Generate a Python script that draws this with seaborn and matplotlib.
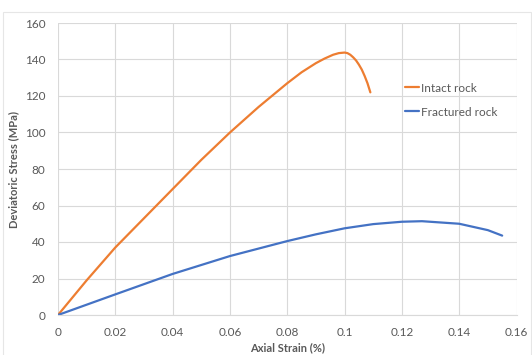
import matplotlib
matplotlib.use("Agg")
import matplotlib.pyplot as plt
import seaborn as sns
import pandas as pd
from matplotlib.patches import Rectangle

intact_strain = [0, 0.01, 0.02, 0.03, 0.04, 0.05, 0.06, 0.07, 0.08, 0.085, 0.09, 0.093, 0.096, 0.098, 0.1, 0.101, 0.102, 0.103, 0.104, 0.105, 0.106, 0.107, 0.108, 0.109]
intact_stress = [0, 19, 37, 53, 69, 85, 100, 114, 127, 133, 138, 140.5, 142.6, 143.5, 143.8, 143.5, 142.6, 141.2, 139.5, 137.2, 134.5, 131, 127, 122]
fractured_strain = [0, 0.02, 0.04, 0.06, 0.08, 0.09, 0.10, 0.11, 0.12, 0.127, 0.14, 0.15, 0.155]
fractured_stress = [0, 11.3, 22.5, 32.3, 40.5, 44.2, 47.5, 49.8, 51.1, 51.4, 50.0, 46.5, 43.5]
series_names = ["Intact rock", "Fractured rock"]
x_ticks = [0, 0.02, 0.04, 0.06, 0.08, 0.1, 0.12, 0.14, 0.16]
x_tick_labels = ["0", "0.02", "0.04", "0.06", "0.08", "0.1", "0.12", "0.14", "0.16"]
y_ticks = [0, 20, 40, 60, 80, 100, 120, 140, 160]

df = pd.concat([
    pd.DataFrame({"strain": intact_strain, "stress": intact_stress, "series": series_names[0]}),
    pd.DataFrame({"strain": fractured_strain, "stress": fractured_stress, "series": series_names[1]}),
])

sns.set_theme(style="white")
plt.rcParams["font.family"] = ["Lato", "DejaVu Sans"]

fig = plt.figure(figsize=(5.32, 3.55), dpi=100)
ax = fig.add_axes([58/532, 1-315/355, (516.5-58)/532, (315-23)/355])

palette = {"Intact rock": "#ED7D31", "Fractured rock": "#4472C4"}
sns.lineplot(data=df, x="strain", y="stress", hue="series", palette=palette,
             sort=False, estimator=None, linewidth=1.6, ax=ax)

ax.set_xlim(0, 0.16)
ax.set_ylim(0, 160)
ax.set_xticks(x_ticks)
ax.set_xticklabels(x_tick_labels)
ax.set_yticks(y_ticks)
ax.grid(True, color="#D9D9D9", linewidth=0.8)
ax.set_axisbelow(True)
for s in ["top", "right", "left"]:
    ax.spines[s].set_visible(False)
ax.spines["bottom"].set_color("#D9D9D9")
ax.spines["bottom"].set_linewidth(0.8)
ax.tick_params(axis="both", length=0, labelsize=8.5, labelcolor="#595959")
ax.tick_params(axis="x", pad=9)
ax.tick_params(axis="y", pad=9)

ax.set_xlabel("Axial Strain (%)", fontsize=8, fontweight="bold", color="#595959", labelpad=3)
ax.set_ylabel("Deviatoric Stress (MPa)", fontsize=8, fontweight="bold", color="#595959", labelpad=4)

ax.legend(loc="upper left", bbox_to_anchor=(394/532, 1-72/355), bbox_transform=fig.transFigure,
          frameon=False, handlelength=1.2, handletextpad=0.15, labelspacing=1.1,
          prop={"size": 8.5}, labelcolor="#595959")

fig.patches.append(Rectangle((3/532, -0.01), 528/532, 1-12/355+0.01, transform=fig.transFigure,
                             fill=False, edgecolor="#E6E6E6", linewidth=0.8))

fig.savefig("out.png", dpi=100)
